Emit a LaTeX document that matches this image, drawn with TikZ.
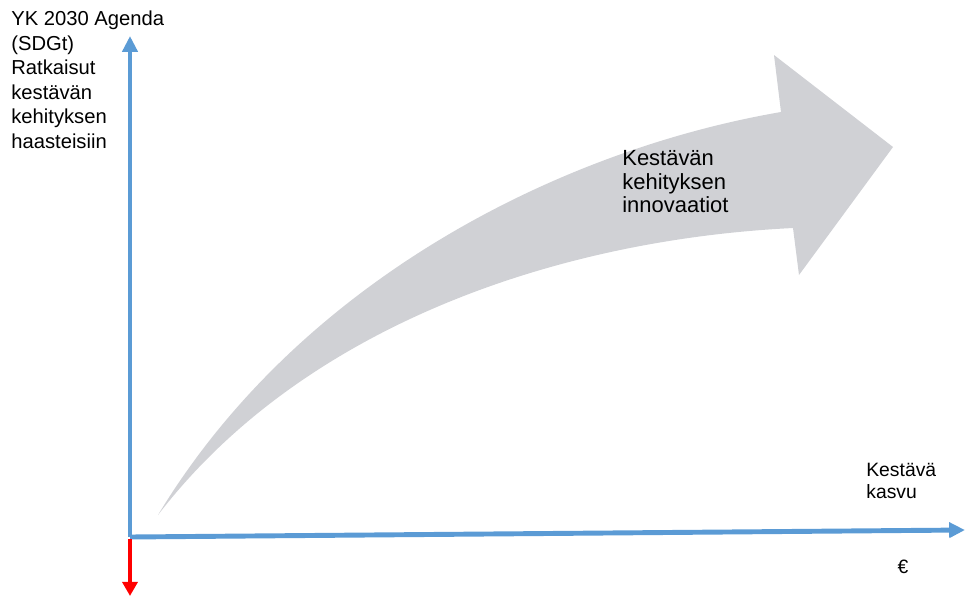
\documentclass[tikz,border=0pt]{standalone}
\usepackage{fontspec}
\setmainfont{Liberation Sans}
\usepackage{tikz}
\usetikzlibrary{arrows.meta}
\definecolor{axisblue}{RGB}{91,155,213}
\definecolor{arrowgray}{RGB}{208,209,213}

\begin{document}
\begin{tikzpicture}[x=0.02cm, y=-0.02cm]
        \useasboundingbox (0,0) rectangle (965,596);
        \coordinate (O) at (130, 537);
        \coordinate (Ytop) at (130, 36);
        \coordinate (Xend) at (965, 530);
        \coordinate (Ybot) at (130, 596);

        % big curved arrow
        \fill[arrowgray] (158, 515) .. controls (300, 280) and (560, 150) .. (781, 112)
            -- (774, 55) -- (893, 147) -- (799, 275) -- (793, 228)
            .. controls (550, 240) and (300, 330) .. (158, 515) -- cycle;

        \draw [-{Triangle[length=9pt, width=8.5pt]}, axisblue, line width=2.8pt] (O) -- (Ytop);
        \draw [-{Triangle[length=9pt, width=8.5pt]}, axisblue, line width=2.8pt] (O) -- (Xend);
        \draw [-{Triangle[length=8pt, width=8.5pt]}, red, line width=2.8pt] ([yshift=-1.4pt]O) -- (Ybot);

        \node[anchor=north west, align=left, inner sep=0pt, font=\fontsize{11.5}{13.9}\selectfont] at (11, 11) (ylabel) {YK 2030 Agenda\\(SDGt)\\Ratkaisut\\kestävän\\kehityksen\\haasteisiin};
        \node[anchor=north west, align=left, inner sep=0pt, font=\fontsize{12.5}{13.4}\selectfont] at (622, 150) (arrowlabel) {Kestävän\\kehityksen\\innovaatiot};
        \node[anchor=north west, align=left, inner sep=0pt, font=\fontsize{11}{12.6}\selectfont] at (866, 463) (xlabel) {Kestävä\\kasvu};
        \node[font=\fontsize{11}{13}\selectfont] at (903, 567) (euro) {€};
    \end{tikzpicture}
\end{document}
